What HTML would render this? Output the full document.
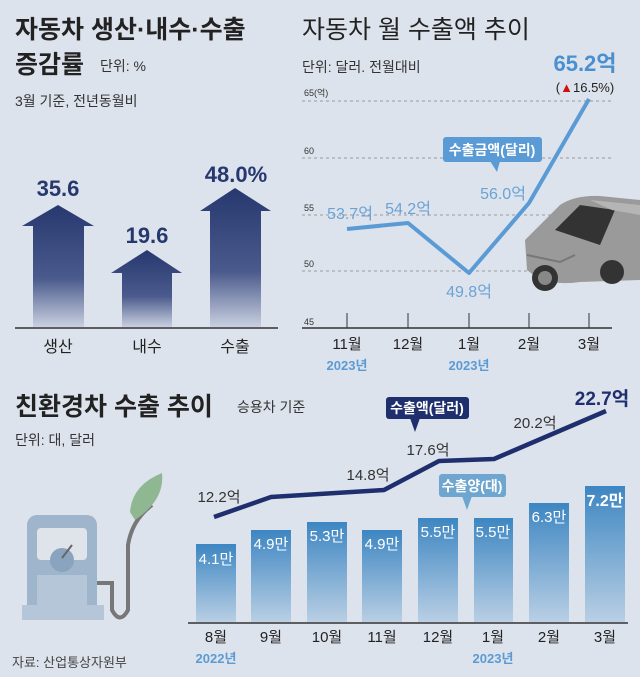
<!DOCTYPE html>
<html><head><meta charset="utf-8"><style>
body{margin:0;background:#dde3ec;}
svg{display:block;font-family:"Liberation Sans","Noto Sans CJK KR",sans-serif;}
</style></head><body>
<svg width="640" height="677" viewBox="0 0 640 677">
<defs>
<linearGradient id="ar" x1="0" y1="0" x2="0" y2="1"><stop offset="0" stop-color="#27386f"/><stop offset="0.6" stop-color="#4a5a8c"/><stop offset="1" stop-color="#c9d0e0"/></linearGradient>
<linearGradient id="br" x1="0" y1="0" x2="0" y2="1"><stop offset="0" stop-color="#3d86c2"/><stop offset="1" stop-color="#b9cfe4"/></linearGradient>
</defs>
<rect width="640" height="677" fill="#dde3ec"/>
<!-- left titles -->
<text x="15" y="38" font-size="25" font-weight="bold" fill="#222">자동차 생산·내수·수출</text>
<text x="15" y="73" font-size="25" font-weight="bold" fill="#222">증감률</text>
<text x="100" y="71" font-size="14" fill="#333">단위: %</text>
<text x="15" y="106" font-size="14" fill="#333">3월 기준, 전년동월비</text>
<!-- arrows -->
<polygon points="58,205 94,226 84,226 84,327 33,327 33,226 22,226" fill="url(#ar)"/>
<polygon points="147,250 182,273 172,273 172,327 122,327 122,273 111,273" fill="url(#ar)"/>
<polygon points="235,188 271,211 261,211 261,327 210,327 210,211 200,211" fill="url(#ar)"/>
<text x="58" y="196" font-size="22" font-weight="bold" fill="#27386f" text-anchor="middle">35.6</text>
<text x="147" y="243" font-size="22" font-weight="bold" fill="#27386f" text-anchor="middle">19.6</text>
<text x="236" y="182" font-size="22" font-weight="bold" fill="#27386f" text-anchor="middle">48.0%</text>
<line x1="15" y1="328" x2="278" y2="328" stroke="#333" stroke-width="1.5"/>
<text x="58" y="352" font-size="16" fill="#222" text-anchor="middle">생산</text>
<text x="147" y="352" font-size="16" fill="#222" text-anchor="middle">내수</text>
<text x="235" y="352" font-size="16" fill="#222" text-anchor="middle">수출</text>
<!-- right chart -->
<text x="302" y="38" font-size="25" fill="#222">자동차 월 수출액 추이</text>
<text x="302" y="72" font-size="14" fill="#333">단위: 달러. 전월대비</text>
<g stroke="#999" stroke-dasharray="3,3" stroke-width="1">
<line x1="302" y1="101" x2="612" y2="101"/><line x1="302" y1="158" x2="612" y2="158"/>
<line x1="302" y1="215" x2="612" y2="215"/><line x1="302" y1="271" x2="612" y2="271"/>
</g>
<g font-size="9" fill="#333"><text x="304" y="96">65(억)</text><text x="304" y="154">60</text><text x="304" y="211">55</text><text x="304" y="267">50</text><text x="304" y="325">45</text></g>
<line x1="302" y1="328" x2="612" y2="328" stroke="#333" stroke-width="1.5"/>
<g stroke="#333" stroke-width="1"><line x1="347" y1="313" x2="347" y2="328"/><line x1="408" y1="313" x2="408" y2="328"/><line x1="469" y1="313" x2="469" y2="328"/><line x1="529" y1="313" x2="529" y2="328"/><line x1="589" y1="313" x2="589" y2="328"/></g>
<g font-size="15" fill="#222" text-anchor="middle"><text x="347" y="349">11월</text><text x="408" y="349">12월</text><text x="469" y="349">1월</text><text x="529" y="349">2월</text><text x="589" y="349">3월</text></g>
<g font-size="13" fill="#5b9bd5" text-anchor="middle" font-weight="bold"><text x="347" y="370">2023년</text><text x="469" y="370">2023년</text></g>
<!-- car -->
<g>
<path d="M525,240 L560,205 Q575,195 600,196 L640,200 L640,280 L580,282 Q560,285 540,280 L527,270 Z" fill="#9a9a9a"/>
<path d="M555,230 L580,205 L615,210 L600,245 Z" fill="#333"/>
<path d="M590,200 L640,205 L640,215 L612,210 Z" fill="#b5b5b5"/>
<circle cx="545" cy="278" r="13" fill="#333"/><circle cx="545" cy="278" r="7" fill="#888"/>
<circle cx="612" cy="272" r="12" fill="#333"/>
<path d="M527,255 L560,262 L575,255" stroke="#777" fill="none" stroke-width="2"/>
</g>
<polyline points="347,229 408,223 469,273 529,203 589,99" fill="none" stroke="#5b9bd5" stroke-width="4" stroke-linejoin="round"/>
<g font-size="16" fill="#6aa3d6" text-anchor="middle"><text x="350" y="219">53.7억</text><text x="408" y="214">54.2억</text><text x="469" y="297">49.8억</text><text x="503" y="199">56.0억</text></g>
<text x="585" y="71" font-size="22" font-weight="bold" fill="#4a90d0" text-anchor="middle">65.2억</text>
<text x="585" y="92" font-size="13" fill="#222" text-anchor="middle">(<tspan fill="#d01010">▲</tspan>16.5%)</text>
<rect x="443" y="137" width="99" height="25" rx="3" fill="#5b9bd5"/>
<polygon points="490,161 500,161 497,172" fill="#5b9bd5"/>
<text x="492" y="155" font-size="14" font-weight="bold" fill="#fff" text-anchor="middle">수출금액(달리)</text>
<!-- bottom -->
<text x="15" y="415" font-size="25" font-weight="bold" fill="#222">친환경차 수출 추이</text>
<text x="237" y="412" font-size="14" fill="#333">승용차 기준</text>
<text x="15" y="445" font-size="14" fill="#333">단위: 대, 달러</text>
<!-- pump -->
<g>
<rect x="27" y="515" width="70" height="105" rx="10" fill="#9fb5cb"/>
<rect x="37" y="528" width="50" height="32" rx="4" fill="#dfe4ea"/>
<circle cx="62" cy="560" r="12" fill="#8aa4bf"/>
<line x1="62" y1="558" x2="72" y2="545" stroke="#666" stroke-width="2"/>
<rect x="37" y="575" width="50" height="40" fill="#b4c6d8"/>
<rect x="22" y="605" width="82" height="15" fill="#b4c6d8"/>
<path d="M97,583 L112,583 L112,610 Q120,625 128,610 L128,545 Q132,520 152,505" stroke="#777" stroke-width="4" fill="none"/>
<path d="M130,512 Q132,485 162,473 Q165,500 135,520 Z" fill="#8fb892"/>
</g>
<g>
<rect x="196" y="544" width="40" height="78" fill="url(#br)"/>
<rect x="251" y="530" width="40" height="92" fill="url(#br)"/>
<rect x="307" y="522" width="40" height="100" fill="url(#br)"/>
<rect x="362" y="530" width="40" height="92" fill="url(#br)"/>
<rect x="418" y="518" width="40" height="104" fill="url(#br)"/>
<rect x="474" y="518" width="39" height="104" fill="url(#br)"/>
<rect x="529" y="503" width="40" height="119" fill="url(#br)"/>
<rect x="585" y="486" width="40" height="136" fill="url(#br)"/>
</g>
<g font-size="15" fill="#fff" text-anchor="middle"><text x="216" y="564">4.1만</text><text x="271" y="549">4.9만</text><text x="327" y="541">5.3만</text><text x="382" y="549">4.9만</text><text x="438" y="537">5.5만</text><text x="493" y="537">5.5만</text><text x="549" y="522">6.3만</text><text x="605" y="506" font-weight="bold" font-size="16">7.2만</text></g>
<line x1="188" y1="623" x2="628" y2="623" stroke="#333" stroke-width="1.5"/>
<g font-size="15" fill="#222" text-anchor="middle"><text x="216" y="642">8월</text><text x="271" y="642">9월</text><text x="327" y="642">10월</text><text x="382" y="642">11월</text><text x="438" y="642">12월</text><text x="493" y="642">1월</text><text x="549" y="642">2월</text><text x="605" y="642">3월</text></g>
<g font-size="13" fill="#5b9bd5" text-anchor="middle" font-weight="bold"><text x="216" y="663">2022년</text><text x="493" y="663">2023년</text></g>
<text x="12" y="667" font-size="13" fill="#444">자료: 산업통상자원부</text>
<polyline points="214,517 271,497 384,490 439,461 494,459 606,411" fill="none" stroke="#1f2f6e" stroke-width="4.5" stroke-linejoin="round"/>
<g font-size="15" fill="#333" text-anchor="middle"><text x="219" y="502">12.2억</text><text x="368" y="480">14.8억</text><text x="428" y="455">17.6억</text><text x="535" y="428">20.2억</text></g>
<text x="602" y="405" font-size="19" font-weight="bold" fill="#1f2f6e" text-anchor="middle">22.7억</text>
<rect x="386" y="397" width="83" height="22" rx="3" fill="#1f2f6e"/>
<polygon points="410,418 420,418 415,432" fill="#1f2f6e"/>
<text x="427" y="413" font-size="14" font-weight="bold" fill="#fff" text-anchor="middle">수출액(달러)</text>
<rect x="439" y="474" width="67" height="23" rx="3" fill="#6fa6cf"/>
<polygon points="462,496 472,496 467,510" fill="#6fa6cf"/>
<text x="472" y="491" font-size="14" font-weight="bold" fill="#fff" text-anchor="middle">수출양(대)</text>
</svg>
</body></html>
